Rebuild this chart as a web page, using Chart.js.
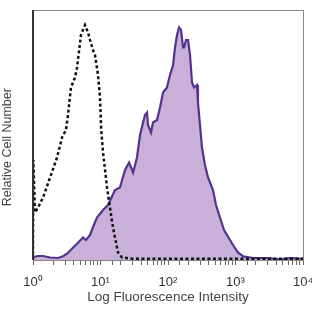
<!DOCTYPE html>
<html>
<head>
  <meta charset="UTF-8">
  <title>Log Fluorescence Histogram</title>
  <script src="https://cdn.jsdelivr.net/npm/chart.js"></script>
  <style>
    body { margin: 0; background: #fff; }
    #wrap { width: 312px; height: 312px; }
  </style>
</head>
<body>
  <div id="wrap"><canvas id="histo" width="312" height="312"></canvas></div>

  <script>
    // stained sample (filled purple)
    const stainedX = [1.00, 1.19, 1.41, 1.79, 2.35, 2.78, 3.19, 3.78, 4.49, 5.51, 6.1, 7.0, 7.7, 8.87,
      10.9, 12.9, 16.4, 19.4, 23.1, 26.5, 30.4, 34.7, 38.5, 45.6, 48.9, 50.6, 56.0, 59.9, 68.7, 76.1,
      84.4, 96.6, 107, 119, 127, 136, 146, 156, 167, 173, 185, 198, 212, 227, 243, 269, 278, 298,
      319, 353, 392, 464, 514, 589, 676, 748, 918, 1089, 1291, 1816, 2929, 4565, 6412, 10000];
    const stainedY = [1.2, 1.6, 1.6, 1.0, 0.8, 1.5, 2.5, 4.5, 6.5, 9, 8, 10, 13, 17,
      20, 22, 28, 29, 36, 39, 35, 41, 50, 58, 59, 54, 51, 55, 56, 61,
      67, 69, 74, 78, 85, 90, 93, 92, 85, 85, 88, 88, 82, 71, 69, 70, 63, 54,
      45, 38, 33, 28, 22, 17, 12, 10, 6, 3, 1.5, 0.8, 0.8, 0.3, 0.8, 0.5];

    // isotype control (dashed black)
    const controlX = [1.00, 1.01, 1.07, 1.19, 1.41, 1.79, 2.27, 2.69, 3.08, 3.30, 3.65, 4.19, 4.49,
      5.14, 5.89, 6.53, 6.99, 7.74, 8.29, 9.18, 9.84, 10.2, 10.9, 12.5, 13.8, 15.3, 18.2, 20.8,
      30, 100, 1000, 10000];
    const controlY = [0, 40, 19, 21, 25, 33, 41, 49, 52, 58, 69, 73, 77,
      90, 94, 91, 88, 84, 82, 74, 65, 53, 43, 29, 21, 13, 3, 1,
      0.5, 0.5, 0.5, 0.5];

    const decadeLabels = ['10\u2070', '10\u00b9', '10\u00b2', '10\u00b3', '10\u2074'];

    const toPts = (xs, ys) => xs.map((x, i) => ({ x: x, y: ys[i] }));

    // frame around the plot area
    const frame = {
      id: 'frame',
      afterDraw(chart) {
        const a = chart.chartArea, c = chart.ctx;
        c.save();
        c.strokeStyle = '#888';
        c.lineWidth = 1;
        c.strokeRect(a.left + 0.5, a.top + 0.5, a.right - a.left, a.bottom - a.top);
        c.strokeStyle = '#333';
        c.lineWidth = 2;
        c.beginPath();
        c.moveTo(a.left, a.top);
        c.lineTo(a.left, a.bottom);
        c.stroke();
        c.restore();
      }
    };

    new Chart(document.getElementById('histo'), {
      type: 'scatter',
      data: {
        datasets: [{
          data: toPts(controlX, controlY),
          showLine: true,
          borderColor: '#111',
          borderWidth: 2.5,
          borderDash: [3, 2.5],
          pointRadius: 0,
          fill: false,
          tension: 0
        }, {
          data: toPts(stainedX, stainedY),
          showLine: true,
          borderColor: '#52348f',
          backgroundColor: '#c8b0d8',
          borderWidth: 2.2,
          pointRadius: 0,
          fill: 'origin',
          tension: 0
        }]
      },
      options: {
        responsive: false,
        animation: false,
        layout: { padding: { top: 10, right: 9, left: 0, bottom: 0 } },
        plugins: { legend: { display: false }, tooltip: { enabled: false } },
        scales: {
          x: {
            type: 'logarithmic',
            min: 1,
            max: 10000,
            afterFit(s) { s.height = 52; s.paddingLeft = 0; s.paddingRight = 0; },
            grid: { drawOnChartArea: false, tickLength: 5, color: '#666' },
            border: { display: false },
            ticks: {
              autoSkip: false,
              maxRotation: 0,
              color: '#333',
              font: { family: 'Liberation Sans', size: 13 },
              padding: 10,
              callback(v) {
                const e = Math.log10(v);
                if (Math.abs(e - Math.round(e)) < 1e-9) return decadeLabels[Math.round(e)];
                return '';
              }
            },
            title: {
              display: true,
              text: 'Log Fluorescence Intensity',
              color: '#444',
              font: { family: 'Liberation Sans', size: 13.5 },
              padding: { top: 0, bottom: 7 }
            }
          },
          y: {
            min: 0,
            max: 100,
            afterFit(s) { s.width = 33; },
            grid: { display: false },
            border: { display: false },
            ticks: { display: false },
            title: {
              display: true,
              // trailing spaces push the rotated label a little lower, as in the original
              text: 'Relative Cell Number\u00a0\u00a0\u00a0\u00a0\u00a0\u00a0\u00a0',
              color: '#444',
              font: { family: 'Liberation Sans', size: 12.5 },
              padding: { top: 0, bottom: 0 }
            }
          }
        }
      },
      plugins: [frame]
    });
  </script>
</body>
</html>
